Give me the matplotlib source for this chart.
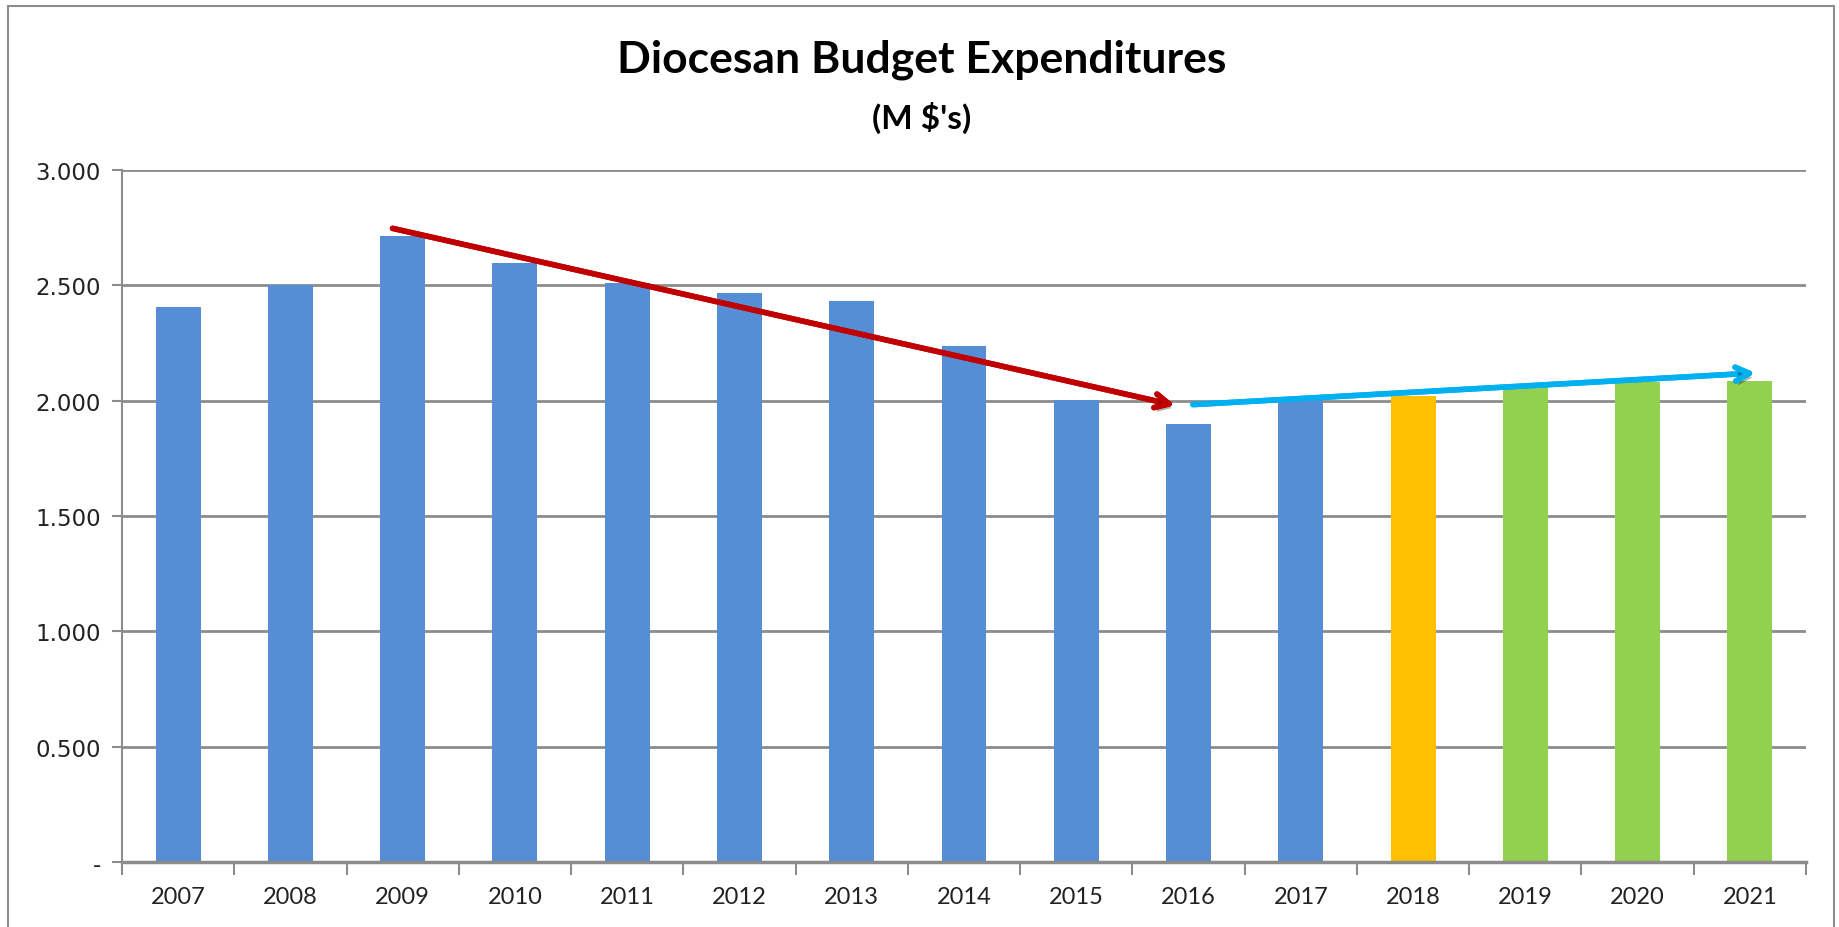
"""
Diocesan budget expenditures by year (M $'s), Excel-style column chart
with two trend arrows drawn over it.
"""

import matplotlib
matplotlib.use("Agg")
import matplotlib.pyplot as plt
import matplotlib.patheffects as pe
from matplotlib.patches import Rectangle

years = ["2007", "2008", "2009", "2010", "2011", "2012", "2013", "2014",
         "2015", "2016", "2017", "2018", "2019", "2020", "2021"]
spend = [2.407, 2.503, 2.713, 2.597, 2.510, 2.465, 2.430, 2.236,
         2.001, 1.900, 2.012, 2.022, 2.061, 2.083, 2.086]
# actual / current budget / projections
kind = ["actual"] * 11 + ["budget"] + ["proj"] * 3

y_ticks = [0, 0.5, 1.0, 1.5, 2.0, 2.5, 3.0]
y_labels = ["-", "0.500", "1.000", "1.500", "2.000", "2.500", "3.000"]

# trend arrows: (x index, value) start -> end
down_trend = [(1.91, 2.747), (8.88, 1.980)]
up_trend = [(9.04, 1.983), (14.05, 2.120)]

colors = {"actual": "#558ED5", "budget": "#FFC000", "proj": "#92D050"}
GRID = "#8C8C8C"

fig = plt.figure(figsize=(18.39, 9.28), dpi=100)
ax = fig.add_axes([122 / 1839, 1 - 863 / 928, (1806 - 122) / 1839, (863 - 171) / 928])

x = list(range(len(years)))
ax.bar(x, spend, width=0.4, color=[colors[k] for k in kind], zorder=2)

ax.set_xlim(-0.5, len(years) - 0.5)
ax.set_ylim(0, 3.0)

ax.set_yticks(y_ticks)
ax.set_yticklabels(y_labels, fontsize=16.5, color="#222222", family="DejaVu Sans")
ax.yaxis.grid(True, color=GRID, lw=2, zorder=0)
ax.tick_params(axis="y", length=7, width=1.5, color=GRID, pad=8)

ax.set_xticks(x)
ax.set_xticklabels(years, fontsize=17, color="#222222", family="Lato")
ax.set_xticks([i - 0.5 for i in range(len(years) + 1)], minor=True)
ax.tick_params(axis="x", which="major", length=0, pad=17)
ax.tick_params(axis="x", which="minor", length=9, width=1.5, color=GRID)

for side in ("top", "right"):
    ax.spines[side].set_visible(False)
ax.spines["left"].set_color(GRID)
ax.spines["left"].set_linewidth(1.5)
ax.spines["bottom"].set_color(GRID)
ax.spines["bottom"].set_linewidth(2.5)

shadow = [pe.withSimplePatchShadow(offset=(2, -3), shadow_rgbFace="black", alpha=0.3), pe.Normal()]
for (start, end), col in ((down_trend, "#C00000"), (up_trend, "#00B0F0")):
    ann = ax.annotate(
        "", xy=end, xytext=start, zorder=5,
        arrowprops=dict(arrowstyle="->,head_length=1.0,head_width=0.5",
                        color=col, lw=4, shrinkA=0, shrinkB=0),
    )
    ann.arrow_patch.set_path_effects(shadow)

fig.text(922 / 1839, 1 - 60 / 928, "Diocesan Budget Expenditures",
         ha="center", va="center", fontsize=32, fontweight="bold", family="Lato")
fig.text(922 / 1839, 1 - 118 / 928, "(M $'s)",
         ha="center", va="center", fontsize=24, fontweight="bold", family="Lato")

fig.add_artist(Rectangle((8 / 1839, -0.02), (1834 - 8) / 1839, 1.02 - 7 / 928,
                         transform=fig.transFigure, fill=False,
                         edgecolor="#8C8C8C", lw=1.5))

fig.savefig("out.png", dpi=100)
